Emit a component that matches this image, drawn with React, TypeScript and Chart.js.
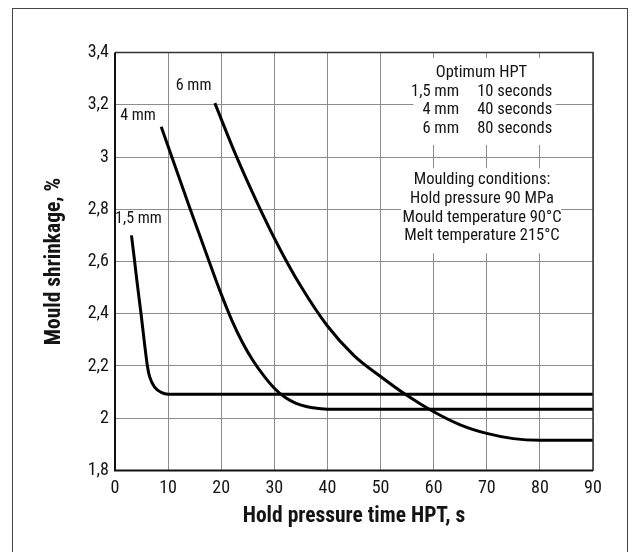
import React, { useEffect, useRef } from "react";
import { Chart, registerables } from "chart.js";

Chart.register(...registerables);

// ---- data ----
const xTickMin = 0;
const xTickMax = 90;
const xTickStep = 10;
const yTickMin = 1.8;
const yTickMax = 3.4;
const yTickStep = 0.2;

const series15X = [3.1, 3.7, 4.1, 4.9, 6.1, 6.5, 7.5, 8.8, 10, 90];
const series15Y = [2.7, 2.6, 2.53, 2.4, 2.2, 2.16, 2.118, 2.098, 2.092, 2.092];

const series4X = [8.7, 10.7, 14, 18, 20, 22, 24, 26, 28, 30, 32, 34, 36, 38, 40.5, 90];
const series4Y = [3.116, 3.0, 2.81, 2.585, 2.475, 2.375, 2.29, 2.22, 2.163, 2.115, 2.08, 2.058, 2.045, 2.038, 2.034, 2.034];

const series6X = [18.8, 22.8, 27, 31, 35, 40, 45, 50, 55, 60, 65, 70, 75, 80, 90];
const series6Y = [3.206, 3.005, 2.815, 2.65, 2.505, 2.353, 2.24, 2.16, 2.087, 2.025, 1.975, 1.942, 1.922, 1.916, 1.916];

const seriesNames = ["1,5 mm", "4 mm", "6 mm"];

const xTitle = "Hold pressure time HPT, s";
const yTitle = "Mould shrinkage, %";

const optimumTitle = "Optimum HPT";
const optimumThickness = ["1,5 mm", "4 mm", "6 mm"];
const optimumTime = ["10 seconds", "40 seconds", "80 seconds"];
const conditionLines = [
  "Moulding conditions:",
  "Hold pressure 90 MPa",
  "Mould temperature 90\u00B0C",
  "Melt temperature 215\u00B0C",
];

// ---- styles / layout ----
const FONT = '"Roboto Condensed", "Open Sans", sans-serif';
const TEXT_COLOR = "#141414";
const W = 629;
const H = 552;

const curveLabelPos = [
  { x: 4.42, y: 2.764 },
  { x: 4.33, y: 3.157 },
  { x: 14.8, y: 3.271 },
];

const toPoints = (xs: number[], ys: number[]) => xs.map((x, i) => ({ x, y: ys[i] }));

const annotationPlugin = {
  id: "annots",
  beforeDatasetsDraw(chart: any) {
    const ctx = chart.ctx;
    const xs = chart.scales.x;
    const ys = chart.scales.y;
    ctx.save();
    ctx.textBaseline = "middle";
    const lh = 18.6;

    const cx1 = xs.getPixelForValue(69);
    const y1 = ys.getPixelForValue(3.322);
    const colR = xs.getPixelForValue(64.8);
    const colL = xs.getPixelForValue(68.2);
    ctx.fillStyle = "#ffffff";
    ctx.fillRect(cx1 - 68, y1 - 15, 142, 87);
    const cx2 = xs.getPixelForValue(69.1);
    const y2 = ys.getPixelForValue(2.911);
    ctx.fillRect(cx2 - 81, y2 - 12, 160, 85);

    ctx.fillStyle = TEXT_COLOR;
    ctx.font = `16.5px ${FONT}`;
    ctx.textAlign = "center";
    ctx.fillText(optimumTitle, cx1, y1);
    for (let i = 0; i < optimumThickness.length; i++) {
      const yy = y1 + lh * (i + 1);
      ctx.textAlign = "right";
      ctx.fillText(optimumThickness[i], colR, yy);
      ctx.textAlign = "left";
      ctx.fillText(optimumTime[i], colL, yy);
    }
    ctx.textAlign = "center";
    conditionLines.forEach((t, i) => ctx.fillText(t, cx2, y2 + lh * i));

    ctx.font = `16px ${FONT}`;
    seriesNames.forEach((t, i) => {
      const p = curveLabelPos[i];
      ctx.fillText(t, xs.getPixelForValue(p.x), ys.getPixelForValue(p.y));
    });
    ctx.restore();
  },
  afterDatasetsDraw(chart: any) {
    const ctx = chart.ctx;
    const a = chart.chartArea;
    ctx.save();
    ctx.strokeStyle = "#333333";
    ctx.lineWidth = 1.5;
    ctx.beginPath();
    ctx.moveTo(a.left, a.top);
    ctx.lineTo(a.right, a.top);
    ctx.lineTo(a.right, a.bottom);
    ctx.stroke();
    ctx.strokeStyle = "#111111";
    ctx.lineWidth = 2;
    ctx.beginPath();
    ctx.moveTo(a.left, a.top);
    ctx.lineTo(a.left, a.bottom);
    ctx.lineTo(a.right, a.bottom);
    ctx.stroke();
    ctx.restore();
  },
  afterDraw(chart: any) {
    const ctx = chart.ctx;
    ctx.save();
    ctx.strokeStyle = "#444444";
    ctx.lineWidth = 1;
    ctx.strokeRect(12.5, 8.5, 615, 600);
    ctx.restore();
  },
};

export default function App() {
  const canvasRef = useRef<HTMLCanvasElement | null>(null);

  useEffect(() => {
    const canvas = canvasRef.current;
    if (!canvas) return;
    const lineStyle = {
      borderColor: "#000000",
      borderWidth: 3,
      pointRadius: 0,
      pointHoverRadius: 0,
      fill: false,
      cubicInterpolationMode: "monotone" as const,
      clip: false as any,
    };
    const chart = new Chart(canvas, {
      type: "line",
      data: {
        datasets: [
          { label: seriesNames[0], data: toPoints(series15X, series15Y), ...lineStyle },
          { label: seriesNames[1], data: toPoints(series4X, series4Y), ...lineStyle },
          { label: seriesNames[2], data: toPoints(series6X, series6Y), ...lineStyle },
        ],
      },
      options: {
        responsive: false,
        animation: false,
        devicePixelRatio: 1,
        layout: { padding: { left: 0, top: 52.5, right: 36, bottom: 0 } },
        plugins: {
          legend: { display: false },
          tooltip: { enabled: false },
        },
        scales: {
          x: {
            type: "linear",
            min: xTickMin,
            max: xTickMax,
            ticks: {
              stepSize: xTickStep,
              padding: 7,
              color: TEXT_COLOR,
              font: { family: FONT, size: 18 },
              maxRotation: 0,
            },
            grid: { color: "#8c8c8c", lineWidth: 1, tickLength: 0, drawTicks: false },
            border: { display: false },
            title: {
              display: true,
              text: xTitle,
              color: TEXT_COLOR,
              font: { family: FONT, size: 21.5, weight: "bold" },
              padding: { top: 0, bottom: 22 },
            },
            afterFit: (s: any) => {
              s.height = H - 470.5;
            },
          },
          y: {
            type: "linear",
            min: yTickMin,
            max: yTickMax,
            ticks: {
              stepSize: yTickStep,
              padding: 6,
              color: TEXT_COLOR,
              font: { family: FONT, size: 18 },
              callback: (v: any) => {
                const n = Number(Number(v).toFixed(1));
                return String(n).replace(".", ",");
              },
            },
            grid: { color: "#8c8c8c", lineWidth: 1, tickLength: 0, drawTicks: false },
            border: { display: false },
            title: {
              display: true,
              text: yTitle,
              color: TEXT_COLOR,
              font: { family: FONT, size: 21.5, weight: "bold" },
              padding: { top: 42, bottom: 0 },
            },
            afterFit: (s: any) => {
              s.width = 115;
            },
          },
        },
      },
      plugins: [annotationPlugin],
    });
    return () => chart.destroy();
  }, []);

  return (
    <div style={{ position: "absolute", left: 0, top: 0, width: W, height: H, background: "#ffffff" }}>
      <canvas ref={canvasRef} width={W} height={H} style={{ width: W, height: H, display: "block" }} />
    </div>
  );
}
